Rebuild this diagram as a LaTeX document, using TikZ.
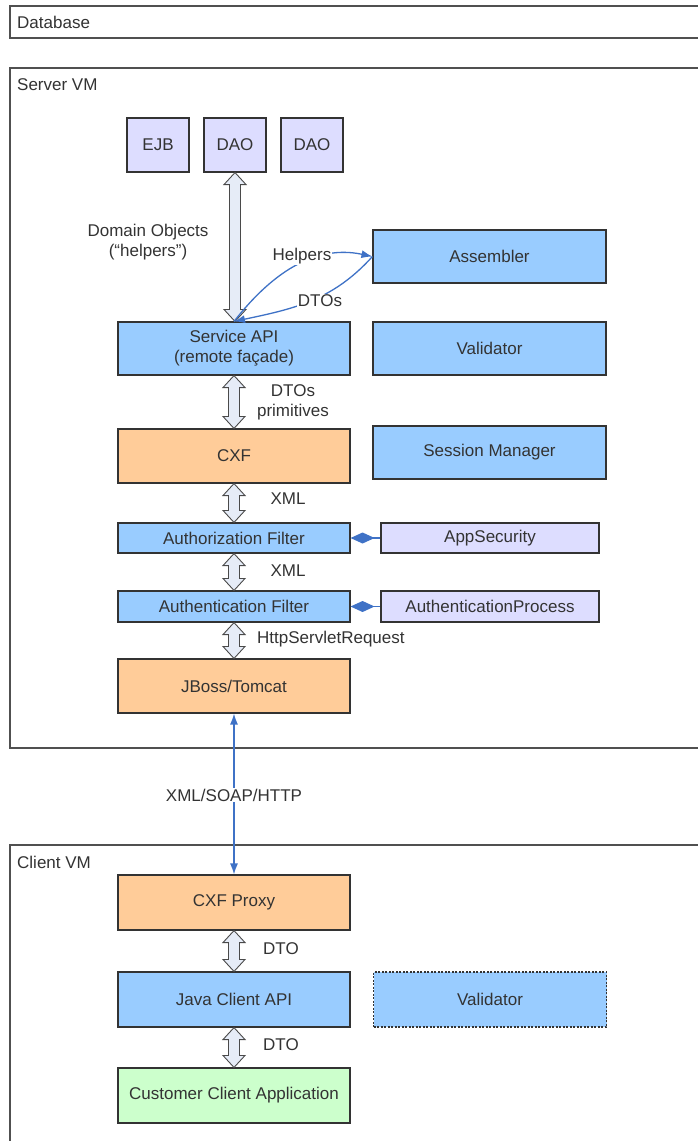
\documentclass[tikz,border=0pt]{standalone}
\usepackage{fontspec}
\setmainfont{Liberation Sans}
\usetikzlibrary{arrows.meta}
\usetikzlibrary{calc}
\definecolor{boxblue}{HTML}{99CCFF}
\definecolor{boxorange}{HTML}{FFCC99}
\definecolor{boxlilac}{HTML}{DDDDFF}
\definecolor{boxgreen}{HTML}{CCFFCC}
\definecolor{boxline}{HTML}{333333}
\definecolor{textgray}{HTML}{333333}
\definecolor{framegray}{HTML}{505050}
\definecolor{fatfill}{HTML}{E6ECF7}
\definecolor{fatline}{HTML}{4A4A4A}
\definecolor{linkblue}{HTML}{3F72C6}

\begin{document}
\begin{tikzpicture}[x=1pt, y=-1pt]
		\tikzset{box/.style={draw=boxline, line width=1.1pt, inner sep=0pt, minimum width=232pt, minimum height=53pt, text=textgray, font=\fontsize{17pt}{20pt}\selectfont, align=center}}
		\tikzset{bluebox/.style={box, fill=boxblue}}
		\tikzset{orangebox/.style={box, fill=boxorange}}
		\tikzset{lilacbox/.style={box, fill=boxlilac}}
		\tikzset{greenbox/.style={box, fill=boxgreen}}
		\tikzset{lbl/.style={fill=white, inner sep=1pt, text=textgray, font=\fontsize{17pt}{20pt}\selectfont, align=center}}
		\tikzset{frame/.style={draw=framegray, line width=1.8pt}}
		\tikzset{wire/.style={draw=linkblue, line width=1.3pt}}
		\tikzset{tie/.style={wire, {Diamond[length=24pt, width=11pt]}-}}
		\tikzset{fat/.style={draw=fatline, fill=fatfill, line width=0.9pt,
				to path={let \p1=(\tikztostart), \p2=(\tikztotarget) in
					(\x1,\y1) -- (\x1+11pt,\y1-12pt) -- (\x1+5.5pt,\y1-12pt) -- (\x1+5.5pt,\y2+12pt)
					-- (\x1+11pt,\y2+12pt) -- (\x1,\y2) -- (\x1-11pt,\y2+12pt) -- (\x1-5.5pt,\y2+12pt)
					-- (\x1-5.5pt,\y1-12pt) -- (\x1-11pt,\y1-12pt) -- cycle}}}
		\useasboundingbox (0,0) rectangle (697,1141);
		%frames
		\draw[frame] (10,6) rectangle (720,38);
		\draw[frame] (10,68) rectangle (720,748);
		\draw[frame] (10,845) rectangle (720,1170);
		\node[lbl, anchor=west] (dbname) at (16,22) {Database};
		\node[lbl, anchor=west] (servername) at (16,85) {Server VM};
		\node[lbl, anchor=west] (clientname) at (16,862) {Client VM};
		%server boxes
		\node[lilacbox, minimum width=62pt, minimum height=54pt] (ejb) at (158,145) {EJB};
		\node[lilacbox, minimum width=62pt, minimum height=54pt] (dao) at (235,145) {DAO};
		\node[lilacbox, minimum width=62pt, minimum height=54pt] (daob) at (312,145) {DAO};
		\node[bluebox, minimum width=233pt] (asm) at (489.5,256.5) {Assembler};
		\node[bluebox] (api) at (234,348.5) {Service API\\(remote façade)};
		\node[bluebox, minimum width=233pt] (val) at (489.5,348.5) {Validator};
		\node[orangebox, minimum height=54pt] (cxf) at (234,456) {CXF};
		\node[bluebox, minimum width=233pt] (sess) at (489.5,452.5) {Session Manager};
		\node[bluebox, minimum height=30pt] (authz) at (234,538) {Authorization Filter};
		\node[lilacbox, minimum width=218pt, minimum height=30pt] (appsec) at (490,538) {AppSecurity};
		\node[bluebox, minimum height=31pt] (authn) at (234,606.5) {Authentication Filter};
		\node[lilacbox, minimum width=218pt, minimum height=31pt] (authp) at (490,606.5) {AuthenticationProcess};
		\node[orangebox, minimum height=54pt] (jboss) at (234,686) {JBoss/Tomcat};
		%client boxes
		\node[orangebox, minimum height=55pt] (proxy) at (234,902.5) {CXF Proxy};
		\node[bluebox, minimum height=55pt] (jcapi) at (234,999.5) {Java Client API};
		\node[bluebox, minimum width=233pt, minimum height=55pt, dash pattern=on 2pt off 1.5pt] (cval) at (490,999.5) {Validator};
		\node[greenbox, minimum height=55pt] (cust) at (234,1095.5) {Customer Client Application};
		%fat arrows
		\path (dao.south) edge[fat] (api.north);
		\path (api.south) edge[fat] (cxf.north);
		\path (cxf.south) edge[fat] (authz.north);
		\path (authz.south) edge[fat] (authn.north);
		\path (authn.south) edge[fat] (jboss.north);
		\path (proxy.south) edge[fat] (jcapi.north);
		\path (jcapi.south) edge[fat] (cust.north);
		%thin links
		\draw[wire, -{Latex[length=11pt, width=8pt]}] (api.north) to[out=52, in=168] (asm.west);
		\draw[wire, -{Latex[length=11pt, width=8pt]}] (asm.west) to[out=228, in=12] (api.north);
		\draw[tie] (authz.east) -- (appsec.west);
		\draw[tie] (authn.east) -- (authp.west);
		\draw[wire, {Latex[length=11pt, width=8pt]}-{Latex[length=11pt, width=8pt]}] (jboss.south) -- (proxy.north);
		%labels
		\node[lbl, fill=none] (domobj) at (148,242) {Domain Objects\\(“helpers”)};
		\node[lbl] (helpers) at (302,256) {Helpers};
		\node[lbl] (dtoback) at (320,301) {DTOs};
		\node[lbl, fill=none] (dtoprim) at (293,402) {DTOs\\primitives};
		\node[lbl, fill=none] (xmla) at (288,499) {XML};
		\node[lbl, fill=none] (xmlb) at (288,571) {XML};
		\node[lbl, fill=none, anchor=west] (servlet) at (256,639) {HttpServletRequest};
		\node[lbl] (soap) at (234,795) {XML/SOAP/HTTP};
		\node[lbl, fill=none] (dtoa) at (281,949) {DTO};
		\node[lbl, fill=none] (dtob) at (281,1045) {DTO};
		\end{tikzpicture}
\end{document}
